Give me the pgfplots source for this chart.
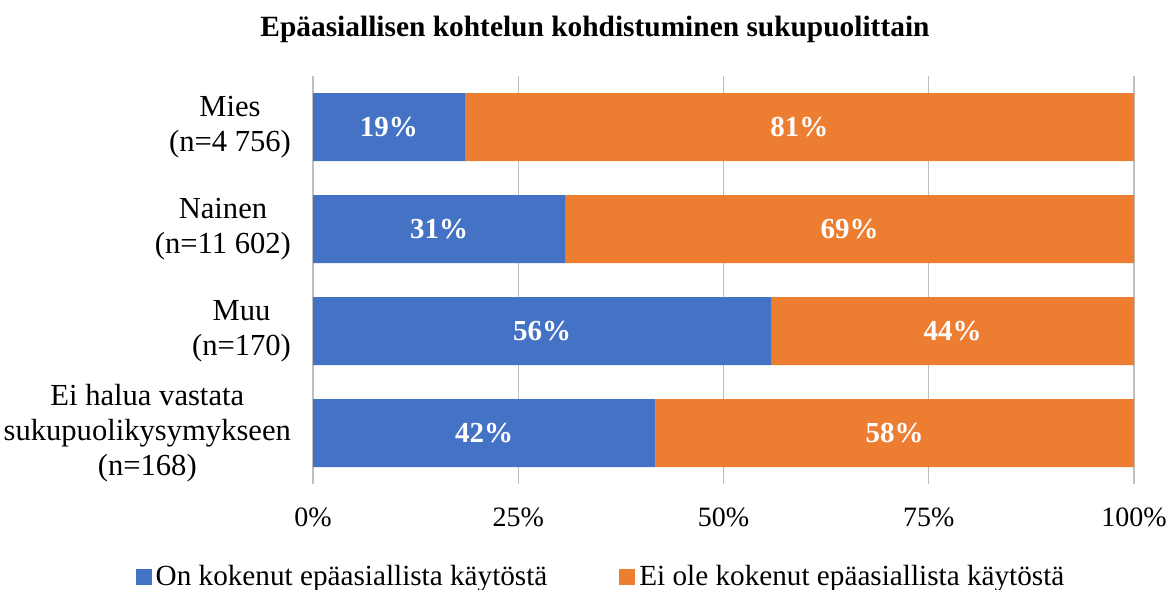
\documentclass[border=0pt]{standalone}
\usepackage{pgfplots}
\pgfplotsset{compat=1.18}
\usepackage{fontspec}
\setmainfont{Liberation Serif}
\definecolor{cblue}{HTML}{4472C4}
\definecolor{corange}{HTML}{ED7D31}
\begin{document}
\begin{tikzpicture}
\useasboundingbox (0,0) rectangle (585.5pt,294.5pt);
\pgfplotsset{myax/.style={at={(156.5pt,52.5pt)}, anchor=south west, scale only axis,
  width=410.5pt, height=204pt, xmin=0, xmax=100, ymin=-0.5, ymax=3.5, y dir=reverse}}
\begin{axis}[myax, xbar stacked, bar width=34pt,
  axis line style={draw=none}, major tick length=0pt,
  xtick={0,25,50,75,100}, xticklabels={0\%,25\%,50\%,75\%,100\%},
  ytick={0,1,2,3},
  yticklabels={{Mies\\(n=4 756)},{Nainen\\(n=11 602)},{Muu\\(n=170)},{Ei halua vastata\\sukupuolikysymykseen\\(n=168)}},
  xmajorgrids, grid style={gray!50, line width=0.6pt},
  xticklabel style={font=\fontsize{14}{17}\selectfont, yshift=-8.5pt},
  yticklabel style={font=\fontsize{15.3}{17.5}\selectfont, align=center, xshift=-7.5pt},
  legend columns=2,
  legend style={draw=none, at={(0.352,-0.228)}, anchor=center,
    font=\fontsize{14.6}{17}\selectfont,
    /tikz/every even column/.append style={column sep=34pt}},
  legend image code/.code={\fill[#1] (0pt,-4pt) rectangle (8pt,4pt);},
  legend cell align=left]
\addplot[fill=cblue, draw=none] coordinates {(18.5,0) (30.7,1) (55.8,2) (41.7,3)};
\addplot[fill=corange, draw=none] coordinates {(81.5,0) (69.3,1) (44.2,2) (58.3,3)};
\legend{On kokenut epäasiallista käytöstä, Ei ole kokenut epäasiallista käytöstä}
\end{axis}
\begin{axis}[myax, hide axis]
\addplot[draw=none, mark=none, nodes near coords, point meta=explicit symbolic,
  nodes near coords style={anchor=center, text=white, font=\bfseries\fontsize{14.5}{17}\selectfont}]
  coordinates {(9.25,0) [19\%] (15.35,1) [31\%] (27.9,2) [56\%] (20.85,3) [42\%]
               (59.25,0) [81\%] (65.35,1) [69\%] (77.9,2) [44\%] (70.85,3) [58\%]};
\end{axis}
\node[font=\bfseries\fontsize{14.7}{17}\selectfont] at (297.5pt,280pt) {Epäasiallisen kohtelun kohdistuminen sukupuolittain};
\end{tikzpicture}
\end{document}
